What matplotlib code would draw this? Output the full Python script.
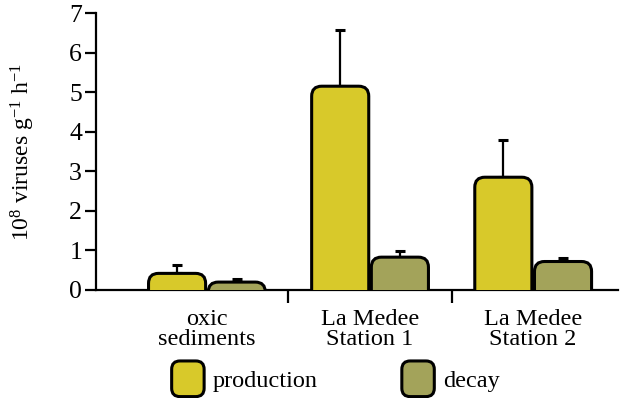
import matplotlib
matplotlib.use("Agg")
import matplotlib.pyplot as plt
from matplotlib.patches import FancyBboxPatch
from matplotlib.legend_handler import HandlerPatch
import numpy as np

plt.rcParams['font.family'] = ['Liberation Serif', 'DejaVu Serif']
plt.rcParams['mathtext.fontset'] = 'custom'
plt.rcParams['mathtext.rm'] = 'Liberation Serif'
plt.rcParams['mathtext.it'] = 'Liberation Serif:italic'

categories = ["oxic\nsediments", "La Medee\nStation 1", "La Medee\nStation 2"]
production = [0.42, 5.15, 2.85]
production_err = [0.22, 1.43, 0.95]
decay = [0.20, 0.83, 0.72]
decay_err = [0.07, 0.15, 0.08]
series_names = ["production", "decay"]
colors = ["#D8C92A", "#A3A35A"]

fig = plt.figure(figsize=(6.2, 3.98), dpi=100)
ax = fig.add_axes([96/620, 1-290/398, 522/620, (290-13)/398])
ax.set_xlim(-0.68, 2.52)
ax.set_ylim(0, 7)

x = np.arange(len(categories))
w = 0.35
offs = [-0.183, 0.183]
px_x = 522 / 3.20
px_y = 277 / 7.0
r_px = 10
rx = r_px / px_x
ry = r_px / px_y

for vals, errs, off, col in zip([production, decay], [production_err, decay_err], offs, colors):
    for xi, v in zip(x, vals):
        p = FancyBboxPatch((xi + off - w/2, -0.6), w, v + 0.6,
                           boxstyle=f"round,pad=0,rounding_size={rx}",
                           mutation_aspect=ry/rx,
                           facecolor=col, edgecolor='black', linewidth=2.2, zorder=3)
        ax.add_patch(p)
    ax.errorbar(x + off, vals, yerr=[np.zeros(len(vals)), errs], fmt='none',
                ecolor='black', elinewidth=1.6, capsize=3.6, capthick=2.2, zorder=2)

for s in ['top', 'right']:
    ax.spines[s].set_visible(False)
for s in ['left', 'bottom']:
    ax.spines[s].set_linewidth(1.6)

ax.set_yticks(range(0, 8))
ax.tick_params(axis='y', length=8, width=1.6, labelsize=18.5, pad=2)
ax.set_xticks(x)
ax.set_xticklabels(categories, fontsize=17.5, linespacing=0.92)
ax.tick_params(axis='x', which='major', length=0, pad=14)
ax.set_xticks([0.5, 1.5], minor=True)
ax.tick_params(axis='x', which='minor', length=9, width=1.6, direction='out')

ax.set_ylabel(r'$10^8$ viruses g$^{-1}$ h$^{-1}$', fontsize=17)
ax.yaxis.set_label_coords(-(96-37)/522, 0.5)


class RoundHandler(HandlerPatch):
    def create_artists(self, legend, orig_handle, xdescent, ydescent, width, height, fontsize, trans):
        p = FancyBboxPatch((-xdescent + 1, -ydescent - 5), width - 2, height + 10,
                           boxstyle="round,pad=0,rounding_size=6",
                           facecolor=orig_handle.get_facecolor(), edgecolor='black', linewidth=2.2)
        p.set_transform(trans)
        return [p]

handles = [FancyBboxPatch((0, 0), 1, 1, facecolor=c, edgecolor='black') for c in colors]
leg = fig.legend(handles, series_names, loc='center', bbox_to_anchor=(335/620, 1-380/398),
                 ncol=2, frameon=False, fontsize=17.5, handlelength=1.45, handleheight=1.0,
                 handletextpad=0.3, columnspacing=3.4,
                 handler_map={FancyBboxPatch: RoundHandler()})

fig.savefig("out.png", dpi=100)
